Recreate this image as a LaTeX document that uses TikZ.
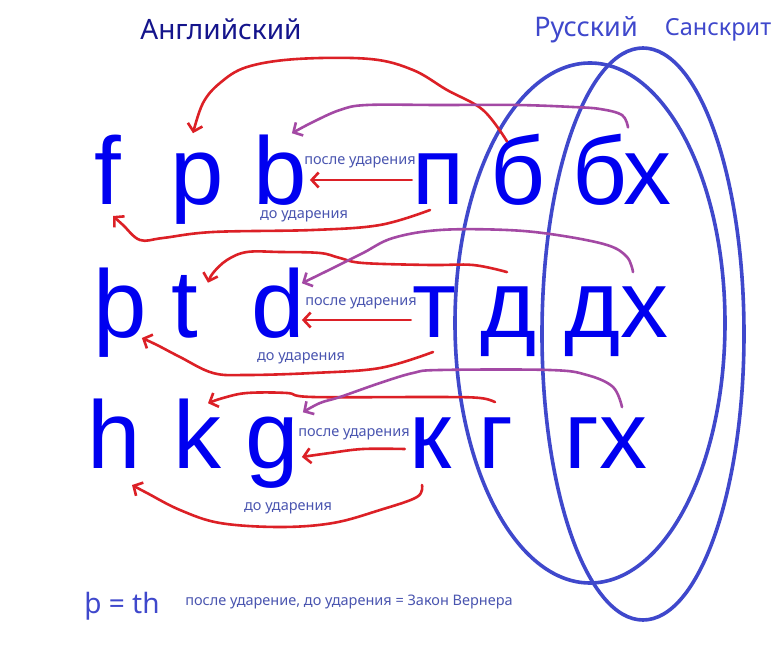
\documentclass[tikz,border=0pt]{standalone}
\usepackage{fontspec}
\setmainfont{Noto Sans}
\newfontfamily\arialf{Liberation Sans}
\usetikzlibrary{calc,arrows.meta}
\definecolor{bg}{HTML}{FFFFFF}
\definecolor{letter}{HTML}{0000F0}
\definecolor{navy}{HTML}{14148C}
\definecolor{ink}{HTML}{3F48CC}
\definecolor{note}{HTML}{4A55B0}
\definecolor{redl}{HTML}{DC2026}
\definecolor{purp}{HTML}{A349A4}
\tikzset{
  big/.style={text=letter, font=\arialf\fontsize{96}{96}\selectfont, inner sep=0pt, anchor=base},
  ttl/.style={text=navy, font=\fontsize{28}{28}\selectfont, inner sep=0pt, anchor=base},
  lang/.style={text=ink, font=\fontsize{27}{27}\selectfont, inner sep=0pt, anchor=base},
  lab/.style={text=note, font=\fontsize{14.5}{15}\selectfont, inner sep=0pt, anchor=base},
  rarr/.style={draw=redl, line width=2.6pt, line cap=round, line join=round, -{Straight Barb[length=7pt,width=15pt]}},
  parr/.style={draw=purp, line width=2.6pt, line cap=round, line join=round, -{Straight Barb[length=7pt,width=15pt]}},
  ring/.style={draw=ink, line width=3.6pt},
}
\begin{document}
\begin{tikzpicture}[x=1pt,y=-1pt]
  \fill[bg] (0,0) rectangle (780,660);
  % letters: English, Russian, Sanskrit
  \foreach \n/\x/\y/\txt in {eF/108/205/f, eP/197/205/p, eB/280/205/b, rP/438/205/п, rB/518/205/б, sBh/622/205/бх,
      eTh/120/338/þ, eT/185/338/t, eD/278/338/d, rT/434/338/т, rD/509/338/д, sDh/617/338/дх,
      eH/114/469/h, eK/197/469/k, eG/272/469/g, rK/430/469/к, rG/496/469/г, sGh/606/469/гх}{
    \node[big] (\n) at (\x,\y) {\txt};
  }
  \node[ttl] (en) at (221,40) {Английский};
  \node[lang] (ru) at (586,37) {Русский};
  \node[lang, font=\fontsize{23.5}{24}\selectfont] (sa) at (718,36) {Санскрит};
  % groups
  \draw[ring] (590,323) ellipse [x radius=135pt, y radius=260pt];
  \draw[ring] (643,334) ellipse [x radius=101pt, y radius=286pt];
  % row 1
  \draw[rarr] plot[smooth, tension=0.6] coordinates {($(rB.north)+(-11,7)$) (483,110) (447,90) (413,70) (370,59) (297,59) (247,67) (220,83) (203,103) ($(eP.north)+(-4,-20)$)};
  \draw[parr] plot[smooth, tension=0.6] coordinates {($(sBh.north)+(6,-7)$) (622,115) (600,109) (573,107) (517,105) (440,105) (367,105) (340,110) (313,122) ($(eB.north east)+(-15,-2)$)};
  \draw[rarr] ($(rP.base west)+(0,-25)$) -- ($(eB.base east)+(3,-25)$);
  \draw[rarr] plot[smooth, tension=0.6] coordinates {($(rP.base)+(-8,5)$) (380,225) (313,230) (213,232) (163,238) (140,240) (123,225) ($(eF.base)+(5,11)$)};
  \node[lab] (pu1) at (360,165) {после ударения};
  \node[lab] (du1) at (304,219) {до ударения};
  % row 2
  \draw[rarr] plot[smooth, tension=0.6] coordinates {($(rD.north)+(-2,-15)$) (473,265) (430,265) (363,263) (340,258) (320,253) (280,252) (247,252) (227,260) (213,273) ($(eT.north)+(23,7)$)};
  \draw[parr] plot[smooth, tension=0.6] coordinates {($(sDh.north)+(16,-15)$) (627,257) (607,245) (557,235) (507,230) (440,230) (393,238) (363,253) (333,268) ($(eD.north east)+(-3,15)$)};
  \draw[rarr] ($(rT.base west)+(-1,-18)$) -- ($(eD.base east)+(-3,-18)$);
  \draw[rarr] plot[smooth, tension=0.6] coordinates {($(rT.base)+(-1,14)$) (380,368) (313,373) (247,375) (213,373) (180,357) (157,345) ($(eTh.base east)+(-5,0)$)};
  \node[lab] (pu2) at (361,306) {после ударения};
  \node[lab] (du2) at (301,361) {до ударения};
  % row 3
  \draw[rarr] plot[smooth, tension=0.6] coordinates {($(rG.north)+(-1,-16)$) (480,398) (440,397) (313,397) (287,393) (247,393) (223,398) ($(eK.north)+(11,4)$)};
  \draw[parr] plot[smooth, tension=0.6] coordinates {($(sGh.north)+(16,-11)$) (613,387) (587,375) (550,370) (440,370) (413,373) (380,383) (340,397) (320,403) ($(eG.north east)+(4,-5)$)};
  \draw[rarr] plot[smooth, tension=0.6] coordinates {($(rK.base west)+(-4,-20)$) (363,449) (330,453) ($(eG.base east)+(3,-12)$)};
  \draw[rarr] plot[smooth, tension=0.6] coordinates {($(rK.base)+(-8,16)$) (417,497) (380,510) (333,523) (280,527) (220,523) (180,510) (147,493) ($(eH.base)+(18,16)$)};
  \node[lab] (pu3) at (354,437) {после ударения};
  \node[lab] (du3) at (288,511) {до ударения};
  % legend
  \node[lang, font=\fontsize{28}{28}\selectfont] (th) at (122,613) {þ = th};
  \node[lab] (law) at (349,605) {после ударение, до ударения = Закон Вернера};
\end{tikzpicture}
\end{document}
